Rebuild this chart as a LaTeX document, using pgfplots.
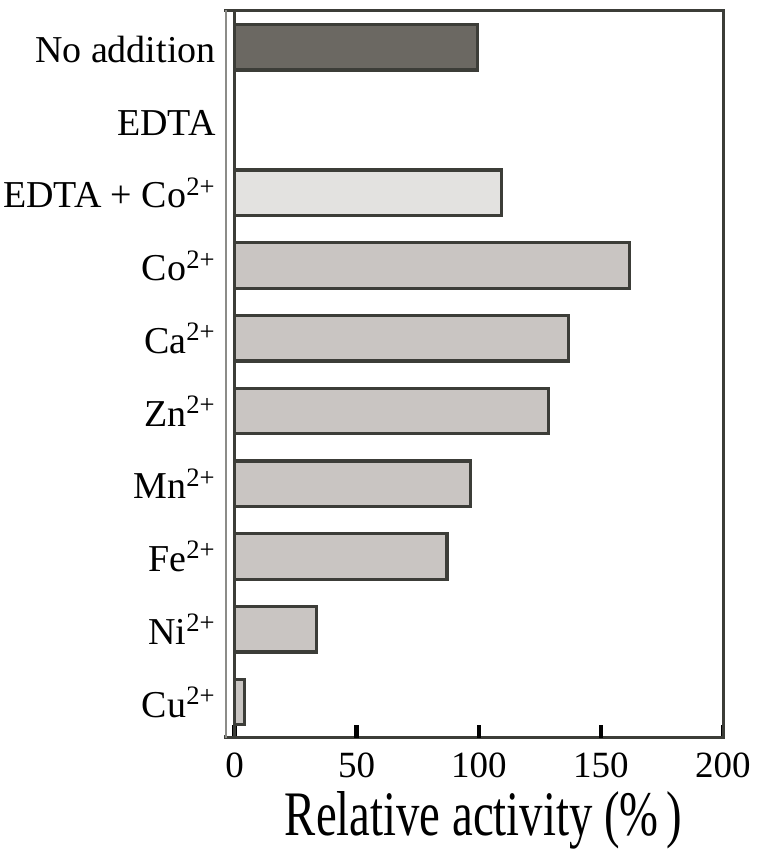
\documentclass[border=0pt]{standalone}
\usepackage{fontspec}
\setmainfont{Liberation Serif}
\usepackage{graphicx}
\usepackage{pgfplots}
\pgfplotsset{compat=1.18}
\definecolor{edge}{HTML}{3C3D38}
\definecolor{darkbar}{HTML}{6B6862}
\definecolor{lightbar}{HTML}{E3E2E0}
\definecolor{midbar}{HTML}{C9C5C2}
\definecolor{outerline}{HTML}{8C8C88}
\begin{document}
\begin{tikzpicture}
\useasboundingbox (-113pt,-57.25pt) rectangle (266pt,368.75pt);
\begin{axis}[
  at={(0,0)}, anchor=south west,
  scale only axis, clip=false,
  width=248.5pt, height=363.75pt,
  xmin=-3.5, xmax=200,
  ymin=-0.488, ymax=9.513,
  xbar, bar width=22.75pt, bar shift=0pt,
  axis line style={edge, line width=1.5pt},
  xtick={0,50,100,150,200},
  xtick pos=bottom,
  tick align=inside,
  major tick length=6.5pt,
  xtick style={draw=black, line width=2.2pt},
  major x tick style={draw=black, line width=2.2pt},
  major y tick style={draw=none},
  xticklabel style={anchor=base, inner sep=0pt, yshift=-20.1pt, font=\fontsize{18.5}{18.5}\selectfont},
  /pgf/number format/assume math mode=true,
  ytick={0,...,9},
  yticklabels={Cu\textsuperscript{2+},Ni\textsuperscript{2+},Fe\textsuperscript{2+},Mn\textsuperscript{2+},Zn\textsuperscript{2+},Ca\textsuperscript{2+},Co\textsuperscript{2+},EDTA + Co\textsuperscript{2+},EDTA,No addition},
  ytick pos=left,
  yticklabel style={anchor=base east, inner sep=0pt, xshift=-5pt, yshift=-7.5pt, font=\fontsize{19}{19}\selectfont},
  xlabel={\scalebox{0.737}[1]{Relative activity (\%\,)}},
  xlabel style={at={(rel axis cs:0.518,0)}, anchor=base, inner sep=0pt, yshift=-48.75pt, font=\fontsize{31.7}{31.7}\selectfont},
]
\addplot[fill=darkbar, draw=edge, line width=1.6pt] coordinates {(99.5,9)};
\addplot[fill=white, draw=edge, line width=1.6pt] coordinates {(0,8)};
\addplot[fill=lightbar, draw=edge, line width=1.6pt] coordinates {(109.4,7)};
\addplot[fill=midbar, draw=edge, line width=1.6pt] coordinates {(161.7,6) (136.8,5) (128.6,4) (96.5,3) (87,2) (33.6,1) (4.1,0)};
\draw[white, line width=1.7pt] (rel axis cs:0,0.003) -- (rel axis cs:0,0.997);
\draw[outerline, line width=0.9pt] (rel axis cs:0,0) -- (rel axis cs:0,1);
\draw[edge, line width=1.5pt] (axis cs:0,-0.488) -- (axis cs:0,9.513);
\draw[black, line width=2.2pt] (axis cs:50,-0.488) -- ++(0pt,6.5pt);
\draw[black, line width=2.2pt] (axis cs:100,-0.488) -- ++(0pt,6.5pt);
\draw[black, line width=2.2pt] (axis cs:150,-0.488) -- ++(0pt,6.5pt);
\end{axis}
\end{tikzpicture}
\end{document}
